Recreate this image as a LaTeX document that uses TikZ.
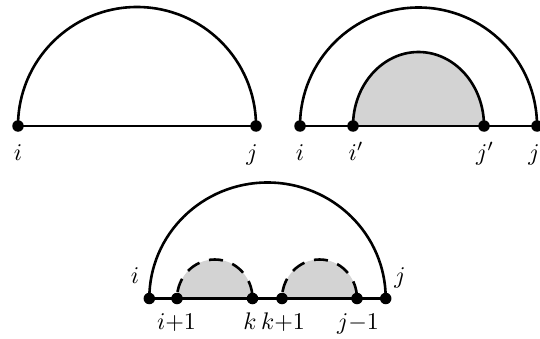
\documentclass[tikz,border=0pt]{standalone}
\begin{document}
\begin{tikzpicture}[x=1pt,y=1pt,
  line width=2.6pt,
  pt/.style={circle,fill=black,inner sep=0pt,minimum size=11.5pt},
  lbl/.style={anchor=base,inner sep=0pt,scale=2.4,transform shape},
  shade/.style={fill={rgb,255:red,211;green,211;blue,211}},
  dsh/.style={dash pattern=on 14pt off 10pt,dash phase=17.5pt}]
\useasboundingbox (0,0) rectangle (540,338);
% ---------- diagram 1
\coordinate (i1) at (18,212);
\coordinate (j1) at (256,212);
\draw (i1) -- (j1);
\draw (i1) arc[start angle=180,end angle=0,radius=119];
\node[pt] (di1) at (i1) {};
\node[pt] (dj1) at (j1) {};
\node[lbl] (li1) at (18,178) {$i$};
\node[lbl] (lj1) at (252,178) {$j$};
% ---------- diagram 2
\coordinate (i2) at (300,212);
\coordinate (ip) at (353,212);
\coordinate (jp) at (484,212);
\coordinate (j2) at (537,212);
\fill[shade] (ip) arc[start angle=180,end angle=0,x radius=65.5,y radius=74] -- cycle;
\draw (i2) -- (j2);
\draw (i2) arc[start angle=180,end angle=0,radius=118.5];
\draw (ip) arc[start angle=180,end angle=0,x radius=65.5,y radius=74];
\node[pt] (di2) at (i2) {};
\node[pt] (dip) at (ip) {};
\node[pt] (djp) at (jp) {};
\node[pt] (dj2) at (j2) {};
\node[lbl] (li2) at (300,178) {$i$};
\node[lbl] (lip) at (356,178) {$i'$};
\node[lbl] (ljp) at (485,178) {$j'$};
\node[lbl] (lj2) at (534,178) {$j$};
% ---------- diagram 3
\coordinate (i3) at (149.3,39.5);
\coordinate (a3) at (177,39.5);
\coordinate (k3) at (252.5,39.5);
\coordinate (k13) at (282,39.5);
\coordinate (b3) at (357,39.5);
\coordinate (j3) at (385.7,39.5);
\fill[shade] (a3) arc[start angle=180,end angle=0,x radius=37.75,y radius=39] -- cycle;
\fill[shade] (k13) arc[start angle=180,end angle=0,x radius=37.5,y radius=39] -- cycle;
\draw[dsh] (a3) arc[start angle=180,end angle=0,x radius=37.75,y radius=39];
\draw[dsh] (k13) arc[start angle=180,end angle=0,x radius=37.5,y radius=39];
\draw (i3) -- (j3);
\draw (i3) arc[start angle=180,end angle=0,x radius=118.2,y radius=116];
\node[pt] (di3) at (i3) {};
\node[pt] (da3) at (a3) {};
\node[pt] (dk3) at (k3) {};
\node[pt] (dk13) at (k13) {};
\node[pt] (db3) at (b3) {};
\node[pt] (dj3) at (j3) {};
\node[lbl] (li3) at (135,55) {$i$};
\node[lbl] (lj3) at (400,55) {$j$};
\node[lbl] (la3) at (176.5,9) {$i{+}1$};
\node[lbl] (lk3) at (250,9) {$k$};
\node[lbl] (lk13) at (283,9) {$k{+}1$};
\node[lbl] (lb3) at (358,9) {$j{-}1$};
\end{tikzpicture}
\end{document}
